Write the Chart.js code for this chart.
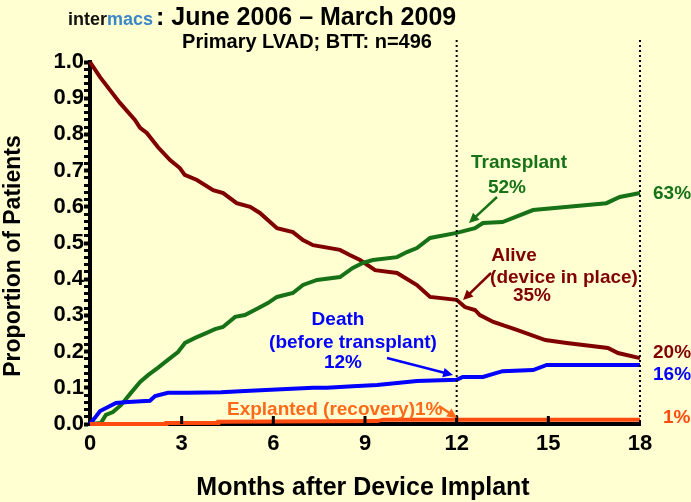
<!DOCTYPE html>
<html>
<head>
<meta charset="utf-8">
<script src="https://cdn.jsdelivr.net/npm/chart.js@4.4.1/dist/chart.umd.min.js"></script>
<style>
  html, body { margin: 0; padding: 0; background: #ffffd2; }
  #wrap { width: 691px; height: 502px; position: relative; }
</style>
</head>
<body>
<div id="wrap"><canvas id="outcomeChart" width="691" height="502"></canvas></div>
<script>
// values (months after implant -> proportion)
const aliveMonths = [0, 0.33, 0.65, 0.98, 1.47, 1.64, 1.86, 2.22, 2.62, 2.94, 3.1, 3.5, 4.03, 4.36, 4.8, 5.24, 5.56, 6.12, 6.64, 6.97, 7.3, 8.18, 8.5, 8.84, 9.33, 10.05, 10.7, 11.13, 12.0, 12.27, 12.6, 12.76, 13.2, 13.97, 14.9, 15.6, 16.95, 17.28, 18];
const aliveValues = [1.0, 0.958, 0.923, 0.887, 0.84, 0.818, 0.804, 0.765, 0.729, 0.707, 0.688, 0.674, 0.646, 0.638, 0.61, 0.6, 0.583, 0.541, 0.53, 0.508, 0.494, 0.481, 0.467, 0.453, 0.425, 0.417, 0.384, 0.351, 0.343, 0.323, 0.315, 0.301, 0.282, 0.26, 0.232, 0.224, 0.21, 0.196, 0.182];

const transplantMonths = [0, 0.36, 0.52, 0.75, 1.01, 1.34, 1.64, 1.9, 2.22, 2.55, 2.88, 3.11, 3.44, 3.8, 4.09, 4.35, 4.75, 5.07, 5.5, 5.82, 6.12, 6.64, 6.97, 7.43, 8.18, 8.6, 8.93, 9.26, 10.05, 10.37, 10.7, 11.13, 12.0, 12.6, 12.86, 13.5, 14.5, 16.9, 17.34, 18];
const transplantValues = [0, 0.003, 0.025, 0.033, 0.052, 0.086, 0.116, 0.135, 0.155, 0.177, 0.199, 0.224, 0.238, 0.251, 0.262, 0.268, 0.296, 0.301, 0.32, 0.334, 0.351, 0.362, 0.384, 0.398, 0.406, 0.431, 0.445, 0.453, 0.461, 0.475, 0.486, 0.514, 0.528, 0.541, 0.555, 0.558, 0.591, 0.61, 0.627, 0.638];

const deathMonths = [0, 0.16, 0.33, 0.59, 0.85, 1.24, 1.96, 2.13, 2.55, 3.2, 4.29, 5.24, 7.3, 7.75, 8.6, 9.4, 10.05, 10.7, 12.0, 12.2, 12.86, 13.5, 14.5, 14.95, 18];
const deathValues = [0, 0.017, 0.036, 0.047, 0.058, 0.061, 0.064, 0.077, 0.086, 0.086, 0.088, 0.092, 0.1, 0.1, 0.104, 0.108, 0.113, 0.119, 0.122, 0.13, 0.13, 0.146, 0.149, 0.163, 0.163];

const explantMonths = [0, 2.5, 2.5, 4.2, 4.2, 9.4, 9.6, 18];
const explantValues = [0, 0, 0.003, 0.003, 0.006, 0.008, 0.012, 0.012];

const xTicks = [0, 3, 6, 9, 12, 15, 18];
const markerMonths = [12, 18];

const GREEN = '#177217';
const RED = '#800000';
const BLUE = '#0000ff';
const ORANGE = '#ff4a10';
const FONT = '"Liberation Sans", Arial, sans-serif';

function toPoints(xs, ys) {
    return xs.map((x, i) => ({ x: x, y: ys[i] }));
}

function arrow(ctx, x1, y1, x2, y2, color) {
    const ang = Math.atan2(y2 - y1, x2 - x1);
    ctx.save();
    ctx.strokeStyle = color;
    ctx.fillStyle = color;
    ctx.lineWidth = 2.5;
    ctx.beginPath();
    ctx.moveTo(x1, y1);
    ctx.lineTo(x2 - 6 * Math.cos(ang), y2 - 6 * Math.sin(ang));
    ctx.stroke();
    ctx.beginPath();
    ctx.moveTo(x2, y2);
    ctx.lineTo(x2 - 11 * Math.cos(ang - 0.45), y2 - 11 * Math.sin(ang - 0.45));
    ctx.lineTo(x2 - 11 * Math.cos(ang + 0.45), y2 - 11 * Math.sin(ang + 0.45));
    ctx.closePath();
    ctx.fill();
    ctx.restore();
}

const decorPlugin = {
    id: 'decor',
    beforeDraw(chart) {
        const ctx = chart.ctx;
        ctx.save();
        ctx.fillStyle = '#ffffd2';
        ctx.fillRect(0, 0, chart.width, chart.height);
        ctx.restore();
    },
    afterDatasetsDraw(chart) {
        const ctx = chart.ctx;
        const xs = chart.scales.x;
        const ys = chart.scales.y;
        const bottom = ys.getPixelForValue(0);

        // dotted reference lines
        ctx.save();
        ctx.strokeStyle = '#000';
        ctx.lineWidth = 2;
        ctx.setLineDash([2, 3]);
        markerMonths.forEach(m => {
            const px = xs.getPixelForValue(m);
            ctx.beginPath();
            ctx.moveTo(px, 40);
            ctx.lineTo(px, bottom);
            ctx.stroke();
        });
        ctx.restore();

        // x tick marks pointing up into the plot
        ctx.save();
        ctx.fillStyle = '#000';
        xTicks.slice(1, -1).forEach(m => {
            const px = xs.getPixelForValue(m);
            ctx.fillRect(px - 1.5, bottom - 8, 3, 8);
        });
        ctx.restore();

        // annotations
        ctx.save();
        ctx.font = 'bold 19px ' + FONT;
        ctx.textBaseline = 'middle';
        ctx.textAlign = 'center';

        ctx.fillStyle = GREEN;
        ctx.fillText('Transplant', 519, 163);
        ctx.fillText('52%', 507, 188);
        ctx.textAlign = 'left';
        ctx.fillText('63%', 653, 194);
        arrow(ctx, 497, 197, 469, 223, GREEN);

        ctx.fillStyle = RED;
        ctx.textAlign = 'center';
        ctx.fillText('Alive', 514, 256);
        ctx.fillText('(device in place)', 564, 278);
        ctx.fillText('35%', 532, 296);
        ctx.textAlign = 'left';
        ctx.fillText('20%', 653, 353);
        arrow(ctx, 491, 273, 463, 300, RED);

        ctx.fillStyle = BLUE;
        ctx.textAlign = 'center';
        ctx.fillText('Death', 338, 320);
        ctx.fillText('(before transplant)', 353, 343);
        ctx.fillText('12%', 343, 363);
        ctx.textAlign = 'left';
        ctx.fillText('16%', 653, 375);
        arrow(ctx, 387, 358, 453, 375, BLUE);

        ctx.fillStyle = '#ff6a1a';
        ctx.textAlign = 'left';
        ctx.fillText('Explanted (recovery)1%', 227, 410);
        ctx.fillStyle = ORANGE;
        ctx.fillText('1%', 663, 418);
        arrow(ctx, 439, 406, 457, 418, '#ff6a1a');
        ctx.restore();

        // titles
        ctx.save();
        ctx.textBaseline = 'alphabetic';
        ctx.textAlign = 'left';
        ctx.font = 'bold 18px ' + FONT;
        ctx.fillStyle = '#111';
        ctx.fillText('inter', 68, 25);
        const w = ctx.measureText('inter').width;
        ctx.fillStyle = '#3a86c8';
        ctx.fillText('macs', 68 + w, 25);
        const w2 = ctx.measureText('macs').width;
        ctx.fillStyle = '#000';
        ctx.font = 'bold 25px ' + FONT;
        ctx.fillText(': June 2006 \u2013 March 2009', 68 + w + w2 + 3, 25);
        ctx.textAlign = 'center';
        ctx.font = 'bold 20px ' + FONT;
        ctx.fillText('Primary LVAD; BTT: n=496', 307, 48);

        ctx.textBaseline = 'middle';
        ctx.font = 'bold 25px ' + FONT;
        ctx.fillText('Months after Device Implant', 363, 488);

        ctx.translate(14, 256);
        ctx.rotate(-Math.PI / 2);
        ctx.font = 'bold 23px ' + FONT;
        ctx.fillText('Proportion of Patients', 0, 0);
        ctx.restore();
    }
};

const ctx = document.getElementById('outcomeChart').getContext('2d');
const myChart = new Chart(ctx, {
    type: 'line',
    data: {
        datasets: [
            { label: 'Explanted (recovery)', data: toPoints(explantMonths, explantValues), borderColor: ORANGE },
            { label: 'Death (before transplant)', data: toPoints(deathMonths, deathValues), borderColor: BLUE },
            { label: 'Transplant', data: toPoints(transplantMonths, transplantValues), borderColor: GREEN },
            { label: 'Alive (device in place)', data: toPoints(aliveMonths, aliveValues), borderColor: RED }
        ]
    },
    options: {
        responsive: false,
        animation: false,
        parsing: false,
        layout: { padding: { top: 62, right: 51, left: 0, bottom: 0 } },
        elements: {
            line: { borderWidth: 4, tension: 0, fill: false },
            point: { radius: 0 }
        },
        datasets: { line: { clip: 6 } },
        plugins: {
            legend: { display: false },
            tooltip: { enabled: false }
        },
        scales: {
            x: {
                type: 'linear',
                min: 0,
                max: 18,
                afterFit: s => { s.height = 78; },
                afterBuildTicks: s => { s.ticks = xTicks.map(v => ({ value: v })); },
                ticks: {
                    color: '#000',
                    padding: -1,
                    font: { family: FONT, size: 22, weight: 'bold' }
                },
                grid: { display: false },
                border: { display: true, color: '#000', width: 4 }
            },
            y: {
                min: 0,
                max: 1,
                afterFit: s => { s.width = 90; },
                ticks: {
                    stepSize: 0.02,
                    autoSkip: false,
                    color: '#000',
                    padding: 0,
                    font: { family: FONT, size: 22, weight: 'bold' },
                    callback: v => Math.abs(v * 10 - Math.round(v * 10)) < 1e-6 ? v.toFixed(1) : ''
                },
                grid: {
                    drawOnChartArea: false,
                    drawTicks: true,
                    tickLength: 6,
                    tickColor: '#000',
                    tickWidth: c => (Math.abs(c.tick.value * 10 - Math.round(c.tick.value * 10)) < 1e-6 ? 4 : 3)
                },
                border: { display: true, color: '#000', width: 4 }
            }
        }
    },
    plugins: [decorPlugin]
});
</script>
</body>
</html>
